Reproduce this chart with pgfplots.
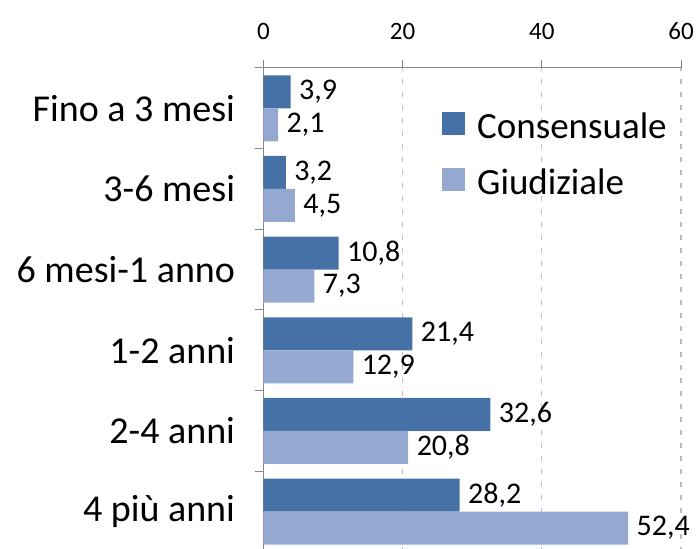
\documentclass[border=0pt]{standalone}
\usepackage{fontspec}
\setmainfont{Carlito}
\usepackage{pgfplots}
\usepackage{pgfplotstable}
\pgfplotsset{compat=1.18}
\definecolor{cons}{RGB}{70,113,166}
\definecolor{giud}{RGB}{149,169,208}
\definecolor{gridc}{RGB}{190,190,190}
\definecolor{axc}{RGB}{134,134,134}

% durata della separazione (%)
\pgfplotstableread{
pos cons giud
5 3.9 2.1
4 3.2 4.5
3 10.8 7.3
2 21.4 12.9
1 32.6 20.8
0 28.2 52.4
}\durata

\begin{document}
\begin{tikzpicture}
\begin{axis}[
  scale only axis,
  width=417.5bp, height=484bp,
  xbar, bar width=33bp,
  xmin=0, xmax=60, ymin=-0.5, ymax=5.5,
  axis x line*=top, axis y line*=left,
  axis line style={axc, line width=1bp},
  xtick={0,20,40,60},
  xmajorgrids,
  major grid style={gridc, line width=1.2bp, dash pattern=on 5bp off 8bp},
  tick align=outside,
  major tick length=8bp, minor tick length=8bp,
  x tick style={axc, line width=1bp},
  ytick={0,...,5},
  yticklabels={4 più anni, 2-4 anni, 1-2 anni, 6 mesi-1 anno, 3-6 mesi, Fino a 3 mesi},
  minor ytick={-0.5,0.5,...,5.5},
  major y tick style={draw=none},
  minor y tick style={axc, line width=1bp},
  xticklabel style={font=\fontsize{25bp}{25bp}\selectfont, yshift=17bp},
  yticklabel style={font=\fontsize{38bp}{38bp}\selectfont, xshift=-17bp},
  /pgf/number format/assume math mode=true,
  nodes near coords,
  nodes near coords style={font=\fontsize{30bp}{30bp}\selectfont, black, xshift=5bp,
    /pgf/number format/.cd, use comma, fixed, fixed zerofill, precision=1},
  legend style={at={(0.4275,0.909)}, anchor=north west, draw=none, fill=none,
    inner sep=0pt, row sep=30bp,
    font=\fontsize{37bp}{37bp}\selectfont,
    nodes={inner sep=0pt, text height=26bp, text depth=0bp}},
  /tikz/every odd column/.append style={column sep=12bp},
  legend cell align=left,
  legend image code/.code={\fill[#1] (0bp,-10bp) rectangle (23bp,13bp);},
]
\addplot[fill=cons, draw=none, bar shift=16.5bp] table[x=cons, y=pos] {\durata};
\addplot[fill=giud, draw=none, bar shift=-16.5bp] table[x=giud, y=pos] {\durata};
\legend{Consensuale, Giudiziale}
\coordinate (tl) at (rel axis cs:0,1);
\end{axis}
\pgfresetboundingbox
\path[use as bounding box] ([xshift=-263.5bp, yshift=68bp]tl) rectangle ++(696bp,-549bp);
\end{tikzpicture}
\end{document}
